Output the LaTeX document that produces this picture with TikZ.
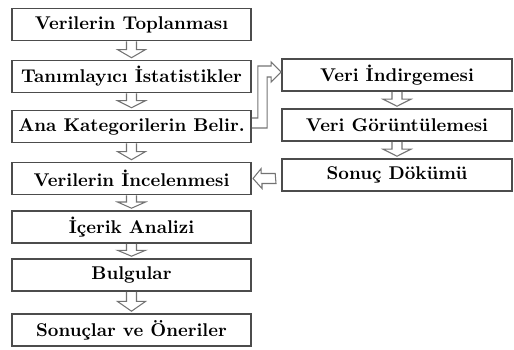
\documentclass[tikz,border=0pt]{standalone}
\usepackage{fontspec}
\usetikzlibrary{calc}

\begin{document}
\begin{tikzpicture}[x=0.2mm,y=-0.2mm,
  box/.style={draw=black!70,line width=0.9pt,minimum height=6.4mm,
    inner sep=0pt,font=\fontsize{10.5pt}{12pt}\selectfont\bfseries},
  leftbox/.style={box,minimum width=47.8mm},
  rightbox/.style={box,minimum width=46mm},
  hollow/.style={draw=black!55,line width=0.6pt,line join=miter}]

\useasboundingbox (0,0) rectangle (514,349);

\node[leftbox] (b1) at (131.5,24.5) {Verilerin Toplanması};
\node[leftbox] (b2) at (131.5,76.5) {Tanımlayıcı İstatistikler};
\node[leftbox] (b3) at (131.5,126.5) {Ana Kategorilerin Belir.};
\node[leftbox] (b4) at (131.5,178.5) {Verilerin İncelenmesi};
\node[leftbox] (b5) at (131.5,227) {İçerik Analizi};
\node[leftbox] (b6) at (131.5,275) {Bulgular};
\node[leftbox] (b7) at (131.5,330) {Sonuçlar ve Öneriler};

\node[rightbox] (r1) at (397,75) {Veri İndirgemesi};
\node[rightbox] (r2) at (397,125) {Veri Görüntülemesi};
\node[rightbox] (r3) at (397,175) {Sonuç Dökümü};

% hollow arrows down
\foreach \a/\b in {b1/b2,b2/b3,b3/b4,b4/b5,b5/b6,b6/b7,r1/r2,r2/r3}
  \draw[hollow] ($(\a.south)+(-5,0)$) -- ($(\a.south)!0.45!(\b.north)+(-5,0)$)
    -- ($(\a.south)!0.45!(\b.north)+(-14,0)$) -- ($(\b.north)+(0,-2)$)
    -- ($(\a.south)!0.45!(\b.north)+(14,0)$) -- ($(\a.south)!0.45!(\b.north)+(5,0)$)
    -- ($(\a.south)+(5,0)$);

% bent arrow
\draw[hollow] ($(b3.east)+(0,-8.5)$) -- ++(6,0) |- ($(r1.west)+(-10,-9)$)
  -- ++(0,-4) -- ($(r1.west)+(0,-3)$) -- ($(r1.west)+(-10,7)$) -- ++(0,-5)
  -- ++(-4,0) |- ($(b3.east)+(0,1.5)$);

% hollow arrow left
\coordinate (t) at ($(r3.west)+(-6,3.5)$);
\draw[hollow] (t) ++(0,-5) -- ++(-14,0) -- ++(0,-5) -- (b4.east -| 253,0)
  -- ++(9,10) -- ++(0,-5) -- ++(14,0) -- cycle;
\end{tikzpicture}
\end{document}
